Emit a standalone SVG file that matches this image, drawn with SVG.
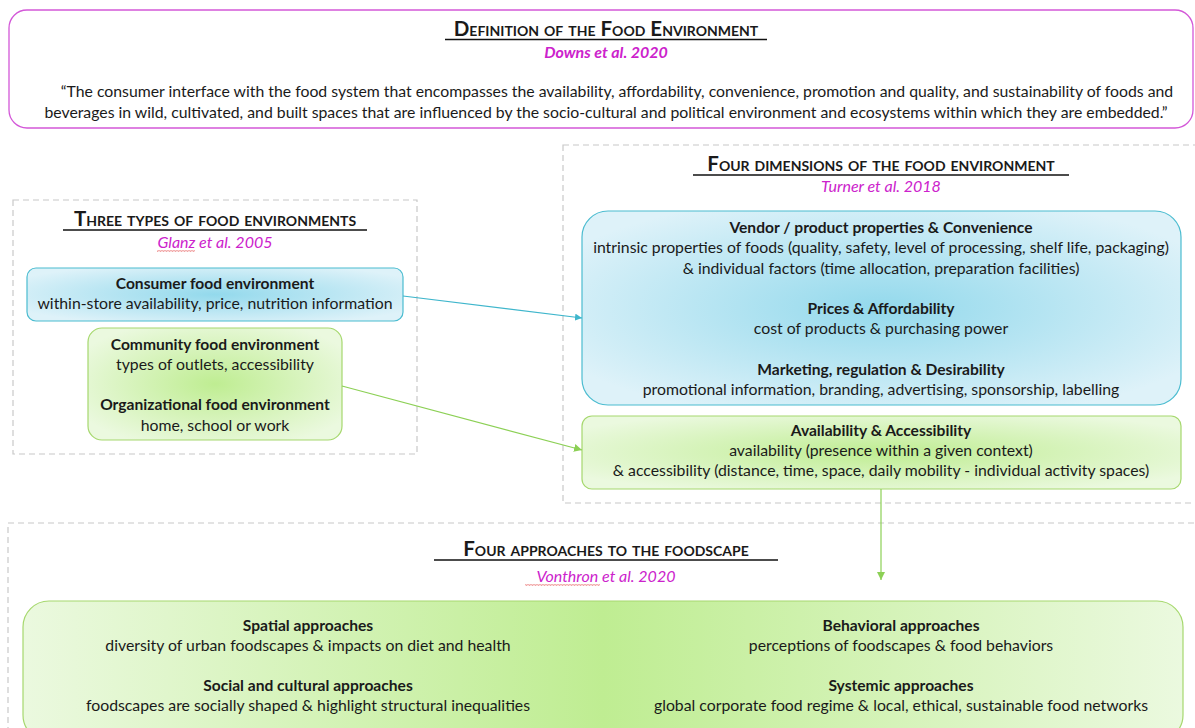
<svg xmlns="http://www.w3.org/2000/svg" width="1195" height="728" viewBox="0 0 1195 728">
<defs>
<radialGradient id="gBlue" cx="50%" cy="50%" r="60%">
<stop offset="0" stop-color="#93d9ec"/><stop offset="1" stop-color="#def2f9"/>
</radialGradient>
<radialGradient id="gGreen" cx="50%" cy="50%" r="60%">
<stop offset="0" stop-color="#bfed92"/><stop offset="1" stop-color="#ebf9df"/>
</radialGradient>
<linearGradient id="gGreenH" x1="0" y1="0" x2="1" y2="0">
<stop offset="0" stop-color="#ebf9df"/><stop offset="0.5" stop-color="#bfed92"/><stop offset="1" stop-color="#ebf9df"/>
</linearGradient>
<marker id="aBlue" viewBox="0 0 10 10" refX="10" refY="5" markerWidth="7" markerHeight="7" orient="auto" markerUnits="userSpaceOnUse"><path d="M0,0 L10,5 L0,10 z" fill="#3fb6cc"/></marker>
<marker id="aGreen" viewBox="0 0 10 10" refX="10" refY="5" markerWidth="8" markerHeight="8" orient="auto" markerUnits="userSpaceOnUse"><path d="M0,0 L10,5 L0,10 z" fill="#8cd055"/></marker>
<pattern id="wavy" width="3" height="2" patternUnits="userSpaceOnUse"><path d="M0,1.6 L0.75,0.4 L1.5,1.6 L2.25,0.4 L3,1.6" fill="none" stroke="#e04040" stroke-width="0.5"/></pattern>
</defs>
<style>
text{font-family:Lato,"Open Sans","Liberation Sans",sans-serif;fill:#1a1a1a;text-anchor:middle}
.b{font-size:15.8px}
.h{font-size:15.6px;font-weight:bold}
.t{font-size:20.5px;font-weight:bold;font-variant:small-caps}
.ref{font-size:16px;font-style:italic;fill:#cc22cc}
.dash{fill:none;stroke:#c8c8c8;stroke-width:1.2;stroke-dasharray:6 4}
.ul{stroke:#111;stroke-width:1.5}
</style>
<rect width="1195" height="728" fill="#ffffff"/>

<g id="definition">
<rect x="9" y="10" width="1184" height="118" rx="18" fill="#fff" stroke="#d358d8" stroke-width="1.3"/>
<text class="t" x="606" y="36">Definition of the Food Environment</text>
<line class="ul" x1="445" y1="39.5" x2="767" y2="39.5"/>
<text class="ref" x="606" y="58" font-weight="bold">Downs et al. 2020</text>
<text class="b" x="617" y="97">“The consumer interface with the food system that encompasses the availability, affordability, convenience, promotion and quality, and sustainability of foods and</text>
<text class="b" x="606" y="118">beverages in wild, cultivated, and built spaces that are influenced by the socio-cultural and political environment and ecosystems within which they are embedded.”</text>
</g>

<g id="three-types">
<rect class="dash" x="13" y="200" width="404" height="254"/>
<text class="t" x="215" y="226">Three types of food environments</text>
<line class="ul" x1="63" y1="230" x2="367" y2="230"/>
<text class="ref" x="215" y="248">Glanz et al. 2005</text>
<rect x="157" y="250" width="38" height="2" fill="url(#wavy)"/>
</g>

<g id="consumer">
<rect x="27" y="268" width="376" height="53" rx="9" fill="url(#gBlue)" stroke="#4bbcd0" stroke-width="1.2"/>
<text class="h" x="215" y="289">Consumer food environment</text>
<text class="b" x="215" y="309">within-store availability, price, nutrition information</text>
</g>

<g id="community">
<rect x="88" y="328" width="254" height="112" rx="14" fill="url(#gGreen)" stroke="#a6d86e" stroke-width="1.2"/>
<text class="h" x="215" y="350">Community food environment</text>
<text class="b" x="215" y="370">types of outlets, accessibility</text>
<text class="h" x="215" y="410">Organizational food environment</text>
<text class="b" x="215" y="431">home, school or work</text>
</g>

<g id="four-dimensions">
<rect class="dash" x="563" y="145" width="640" height="358"/>
<text class="t" x="881" y="171">Four dimensions of the food environment</text>
<line class="ul" x1="693" y1="175" x2="1069" y2="175"/>
<text class="ref" x="881" y="192">Turner et al. 2018</text>
</g>

<g id="dim-blue">
<rect x="582" y="211" width="599" height="194" rx="26" fill="url(#gBlue)" stroke="#4bbcd0" stroke-width="1.2"/>
<text class="h" x="881" y="233">Vendor / product properties &amp; Convenience</text>
<text class="b" x="881" y="253">intrinsic properties of foods (quality, safety, level of processing, shelf life, packaging)</text>
<text class="b" x="881" y="274">&amp; individual factors (time allocation, preparation facilities)</text>
<text class="h" x="881" y="314">Prices &amp; Affordability</text>
<text class="b" x="881" y="334">cost of products &amp; purchasing power</text>
<text class="h" x="881" y="375">Marketing, regulation &amp; Desirability</text>
<text class="b" x="881" y="395">promotional information, branding, advertising, sponsorship, labelling</text>
</g>

<g id="dim-green">
<rect x="582" y="416" width="599" height="73" rx="10" fill="url(#gGreen)" stroke="#a6d86e" stroke-width="1.2"/>
<text class="h" x="881" y="436">Availability &amp; Accessibility</text>
<text class="b" x="881" y="456">availability (presence within a given context)</text>
<text class="b" x="881" y="476">&amp; accessibility (distance, time, space, daily mobility - individual activity spaces)</text>
</g>

<g id="four-approaches">
<rect class="dash" x="8" y="523" width="1200" height="220"/>
<text class="t" x="606" y="556">Four approaches to the foodscape</text>
<line class="ul" x1="434" y1="560" x2="778" y2="560"/>
<text class="ref" x="606" y="582">Vonthron et al. 2020</text>
<rect x="525" y="584" width="75" height="2" fill="url(#wavy)"/>
</g>

<g id="approaches">
<rect x="23" y="601" width="1160" height="140" rx="26" fill="url(#gGreenH)" stroke="#a6d86e" stroke-width="1.2"/>
<text class="h" x="308" y="631">Spatial approaches</text>
<text class="b" x="308" y="651">diversity of urban foodscapes &amp; impacts on diet and health</text>
<text class="h" x="308" y="691">Social and cultural approaches</text>
<text class="b" x="308" y="711">foodscapes are socially shaped &amp; highlight structural inequalities</text>
<text class="h" x="901" y="631">Behavioral approaches</text>
<text class="b" x="901" y="651">perceptions of foodscapes &amp; food behaviors</text>
<text class="h" x="901" y="691">Systemic approaches</text>
<text class="b" x="901" y="711">global corporate food regime &amp; local, ethical, sustainable food networks</text>
</g>

<g id="connectors" fill="none">
<line x1="403" y1="296" x2="582" y2="318" stroke="#3fb6cc" stroke-width="1.2" marker-end="url(#aBlue)"/>
<line x1="342" y1="386" x2="582" y2="450" stroke="#8cd055" stroke-width="1.2" marker-end="url(#aGreen)"/>
<line x1="881" y1="489" x2="881" y2="580" stroke="#8cd055" stroke-width="1.2" marker-end="url(#aGreen)"/>
</g>
</svg>
